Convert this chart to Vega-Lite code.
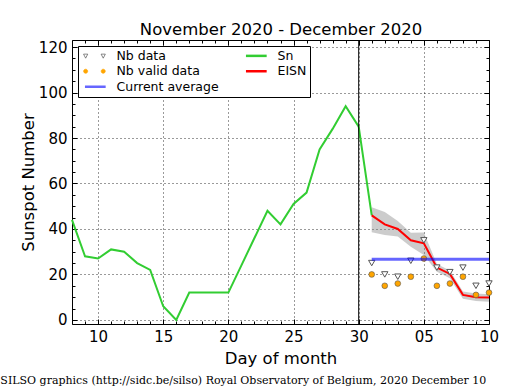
{
  "$schema": "https://vega.github.io/schema/vega-lite/v6.json",
  "width": 417,
  "height": 284,
  "autosize": {"type": "none"},
  "padding": {"left": 72, "top": 40, "right": 26, "bottom": 66},
  "background": "white",
  "title": {
    "text": "SILSO graphics (http://sidc.be/silso) Royal Observatory of Belgium, 2020 December 10",
    "orient": "bottom", "anchor": "start", "frame": "bounds",
    "font": "DejaVu Serif", "fontSize": 11, "fontWeight": "normal", "color": "black",
    "offset": 8, "dx": -20
  },
  "config": {
    "font": "DejaVu Sans",
    "view": {"stroke": "black", "strokeWidth": 1},
    "axis": {
      "domain": false,
      "labelFont": "DejaVu Sans", "labelFontSize": 15, "labelColor": "black",
      "titleFont": "DejaVu Sans", "titleFontSize": 16.5, "titleFontWeight": "normal", "titleColor": "black",
      "tickColor": "black", "tickWidth": 1,
      "gridColor": "black", "gridDash": [1, 3], "gridWidth": 0.8,
      "labelOverlap": false, "labelFlush": false, "labelBound": false
    }
  },
  "datasets": {
    "sn": [
      {"day": 8, "value": 44, "series": "Sn"}, {"day": 9, "value": 28, "series": "Sn"},
      {"day": 10, "value": 27, "series": "Sn"}, {"day": 11, "value": 31, "series": "Sn"},
      {"day": 12, "value": 30, "series": "Sn"}, {"day": 13, "value": 25, "series": "Sn"},
      {"day": 14, "value": 22, "series": "Sn"}, {"day": 15, "value": 6, "series": "Sn"},
      {"day": 16, "value": 0, "series": "Sn"}, {"day": 17, "value": 12, "series": "Sn"},
      {"day": 18, "value": 12, "series": "Sn"}, {"day": 19, "value": 12, "series": "Sn"},
      {"day": 20, "value": 12, "series": "Sn"}, {"day": 21, "value": 24, "series": "Sn"},
      {"day": 22, "value": 36, "series": "Sn"}, {"day": 23, "value": 48, "series": "Sn"},
      {"day": 24, "value": 42, "series": "Sn"}, {"day": 25, "value": 51, "series": "Sn"},
      {"day": 26, "value": 56, "series": "Sn"}, {"day": 27, "value": 75, "series": "Sn"},
      {"day": 28, "value": 84, "series": "Sn"}, {"day": 29, "value": 94, "series": "Sn"},
      {"day": 30, "value": 85, "series": "Sn"}, {"day": 31, "value": 46, "series": "Sn"}
    ],
    "eisn": [
      {"day": 31, "value": 46, "lo": 38.5, "hi": 49.5, "series": "EISN"},
      {"day": 32, "value": 42, "lo": 37.3, "hi": 47.5, "series": "EISN"},
      {"day": 33, "value": 40, "lo": 36.7, "hi": 43.5, "series": "EISN"},
      {"day": 34, "value": 35, "lo": 32.2, "hi": 38.3, "series": "EISN"},
      {"day": 35, "value": 33.7, "lo": 28.6, "hi": 38.4, "series": "EISN"},
      {"day": 36, "value": 23, "lo": 21.2, "hi": 24.6, "series": "EISN"},
      {"day": 37, "value": 20.2, "lo": 18.3, "hi": 21.7, "series": "EISN"},
      {"day": 38, "value": 11, "lo": 9.3, "hi": 12.5, "series": "EISN"},
      {"day": 39, "value": 10, "lo": 8.3, "hi": 11.6, "series": "EISN"},
      {"day": 40, "value": 9.8, "lo": 8, "hi": 11.3, "series": "EISN"}
    ],
    "nb": [
      {"day": 31, "nb": 25, "valid": 20}, {"day": 32, "nb": 20, "valid": 15},
      {"day": 33, "nb": 19, "valid": 16}, {"day": 34, "nb": 26, "valid": 19},
      {"day": 35, "nb": 35, "valid": 27}, {"day": 36, "nb": 23, "valid": 15},
      {"day": 37, "nb": 21, "valid": 16}, {"day": 38, "nb": 23, "valid": 19},
      {"day": 39, "nb": 15, "valid": 11}, {"day": 40, "nb": 16, "valid": 12}
    ],
    "avg": [
      {"start": 31, "end": 40, "value": 26.7, "series": "Current average"}
    ],
    "sep": [
      {"day": 30}
    ]
  },
  "layer": [
    {
      "data": {"name": "eisn"},
      "mark": {"type": "area", "color": "#808080", "opacity": 0.4},
      "encoding": {
        "x": {
          "field": "day", "type": "quantitative",
          "scale": {"domain": [8, 40], "nice": false, "zero": false},
          "axis": {
            "orient": "bottom", "title": "Day of month",
            "values": [10, 15, 20, 25, 30, 35, 40],
            "labelExpr": "datum.value > 30 ? ((datum.value - 30) < 10 ? '0' + (datum.value - 30) : '' + (datum.value - 30)) : '' + datum.value",
            "grid": true, "tickSize": -5, "labelPadding": 10, "titlePadding": 6
          }
        },
        "y": {
          "field": "lo", "type": "quantitative",
          "scale": {"domain": [-1.8, 123.1], "nice": false, "zero": false},
          "axis": {
            "orient": "left", "title": "Sunspot Number",
            "values": [0, 20, 40, 60, 80, 100, 120],
            "grid": true, "tickSize": -5, "labelPadding": 10, "titlePadding": 2
          }
        },
        "y2": {"field": "hi"}
      }
    },
    {
      "data": {"name": "sn"},
      "mark": {"type": "line", "strokeWidth": 2},
      "encoding": {
        "x": {
          "field": "day", "type": "quantitative",
          "axis": {
            "orient": "top", "title": "November 2020 - December 2020",
            "values": [10, 15, 20, 25, 30, 35, 40],
            "labels": false, "grid": false, "tickSize": -5, "titlePadding": 2
          }
        },
        "y": {
          "field": "value", "type": "quantitative",
          "axis": {
            "orient": "right", "title": null,
            "values": [0, 20, 40, 60, 80, 100, 120],
            "labels": false, "grid": false, "tickSize": -5
          }
        },
        "color": {
          "field": "series", "type": "nominal",
          "scale": {
            "domain": ["Nb data", "Nb valid data", "Current average", "Sn", "EISN"],
            "range": ["#555555", "#ffa500", "#6666ff", "#32cd32", "#ff0000"]
          },
          "legend": {
            "title": null, "orient": "top-left", "offset": 6,
            "columns": 2, "columnPadding": 21, "rowPadding": 2.5, "padding": 3.5,
            "strokeColor": "black", "fillColor": "white", "cornerRadius": 0,
            "labelFont": "DejaVu Sans", "labelFontSize": 12.5, "labelColor": "black",
            "symbolSize": 196, "labelOffset": 22.5, "symbolType": "stroke", "symbolStrokeWidth": 2.5,
            "encode": {
              "symbols": {
                "update": {
                  "shape": {"signal": "datum.value === 'Nb data' ? 'M-0.6,-0.25L0,-0.25L-0.3,0.33ZM1.91,-0.25L2.51,-0.25L2.21,0.33Z' : (datum.value === 'Nb valid data' ? 'M-0.59,0A0.29,0.29,0,1,0,-0.01,0A0.29,0.29,0,1,0,-0.59,0ZM1.92,0A0.29,0.29,0,1,0,2.5,0A0.29,0.29,0,1,0,1.92,0Z' : 'M-0.4,0L2.56,0')"},
                  "fill": {"signal": "datum.value === 'Nb data' ? '#ffffff' : (datum.value === 'Nb valid data' ? '#ffa500' : 'transparent')"},
                  "strokeWidth": {"signal": "(datum.value === 'Nb data' || datum.value === 'Nb valid data') ? 0.7 : 2.5"}
                }
              }
            }
          }
        }
      }
    },
    {
      "data": {"name": "eisn"},
      "mark": {"type": "line", "strokeWidth": 2},
      "encoding": {
        "x": {
          "field": "day", "type": "quantitative",
          "axis": {
            "orient": "bottom", "title": null,
            "values": [8,9,11,12,13,14,16,17,18,19,21,22,23,24,26,27,28,29,31,32,33,34,36,37,38,39],
            "labels": false, "grid": false, "tickSize": -3
          }
        },
        "y": {
          "field": "value", "type": "quantitative",
          "axis": {
            "orient": "left", "title": null,
            "values": [5,10,15,25,30,35,45,50,55,65,70,75,85,90,95,105,110,115],
            "labels": false, "grid": false, "tickSize": -3
          }
        },
        "color": {"field": "series", "type": "nominal"}
      }
    },
    {
      "data": {"name": "nb"},
      "mark": {"type": "point", "shape": "triangle-down", "filled": true, "fill": "#ffffff", "stroke": "#555555", "strokeWidth": 1, "size": 40, "opacity": 1},
      "encoding": {
        "x": {
          "field": "day", "type": "quantitative",
          "axis": {
            "orient": "top", "title": null,
            "values": [8,9,11,12,13,14,16,17,18,19,21,22,23,24,26,27,28,29,31,32,33,34,36,37,38,39],
            "labels": false, "grid": false, "tickSize": -3
          }
        },
        "y": {
          "field": "nb", "type": "quantitative",
          "axis": {
            "orient": "right", "title": null,
            "values": [5,10,15,25,30,35,45,50,55,65,70,75,85,90,95,105,110,115],
            "labels": false, "grid": false, "tickSize": -3
          }
        }
      }
    },
    {
      "data": {"name": "nb"},
      "mark": {"type": "point", "shape": "circle", "filled": true, "fill": "#ffa500", "stroke": "#555555", "strokeWidth": 0.6, "size": 33, "opacity": 1},
      "encoding": {
        "x": {"field": "day", "type": "quantitative", "axis": null},
        "y": {"field": "valid", "type": "quantitative", "axis": null}
      }
    },
    {
      "data": {"name": "avg"},
      "mark": {"type": "rule", "strokeWidth": 3, "color": "#0000ff", "opacity": 0.6},
      "encoding": {
        "x": {"field": "start", "type": "quantitative", "axis": null},
        "x2": {"field": "end"},
        "y": {"field": "value", "type": "quantitative", "axis": null}
      }
    },
    {
      "data": {"name": "sep"},
      "mark": {"type": "rule", "color": "black", "strokeWidth": 1},
      "encoding": {
        "x": {"field": "day", "type": "quantitative", "axis": null}
      }
    }
  ],
  "resolve": {"axis": {"x": "independent", "y": "independent"}}
}
